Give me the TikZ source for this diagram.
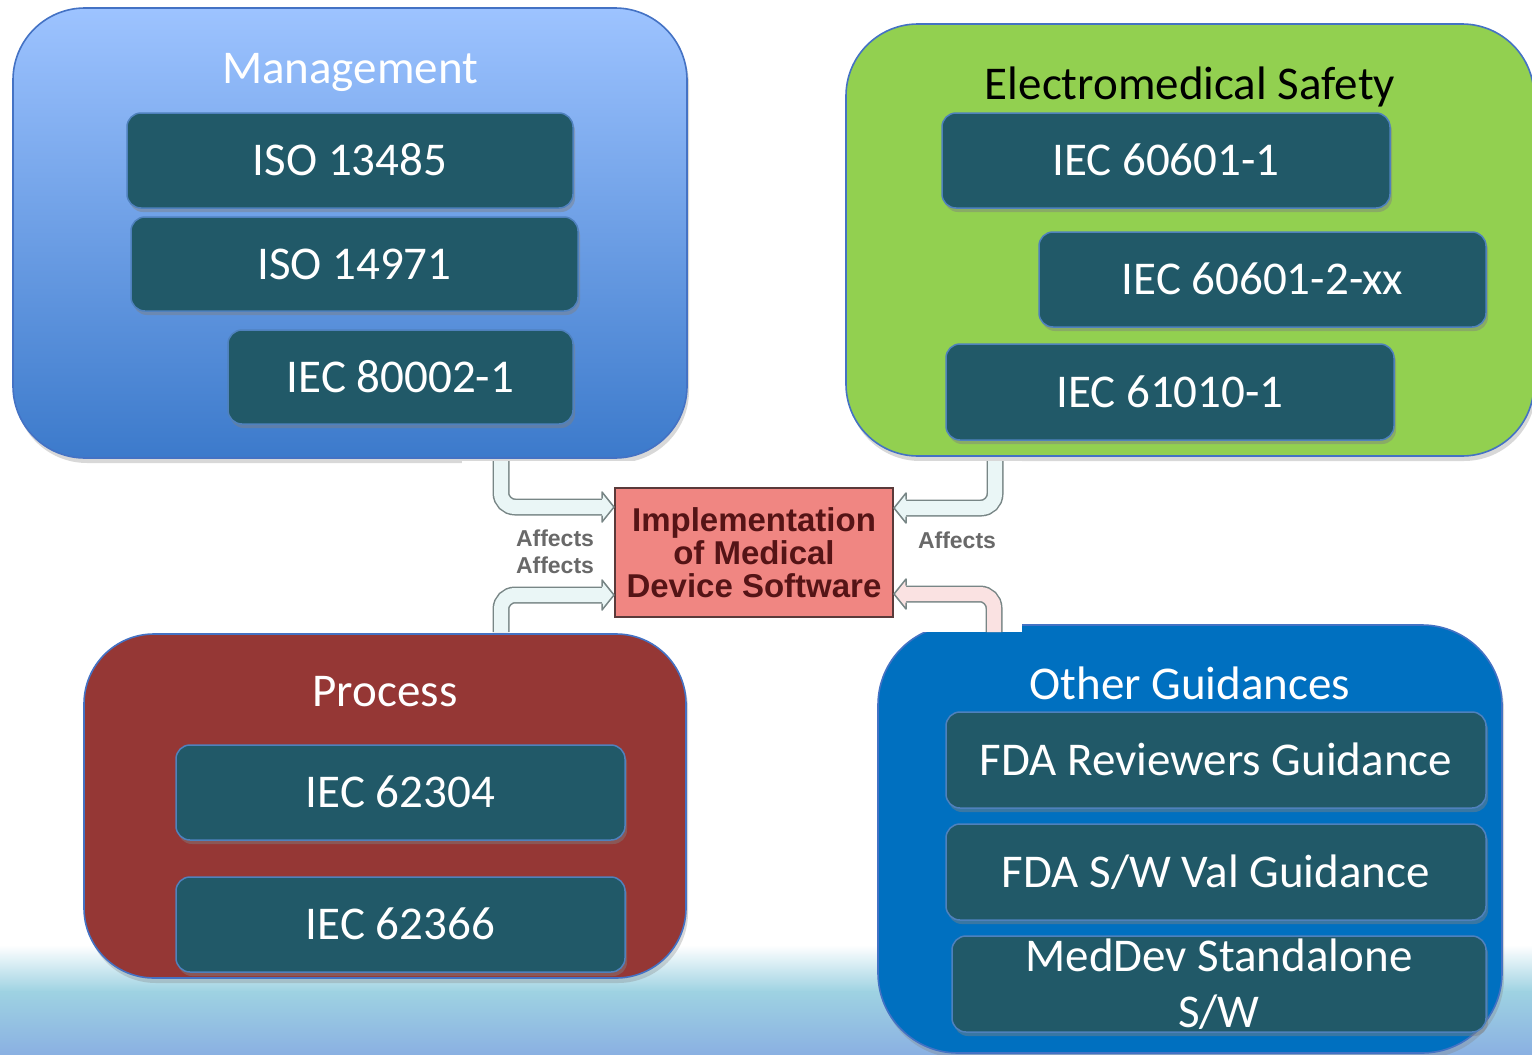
\documentclass[tikz,border=0pt]{standalone}
\usepackage{fontspec}
\setmainfont{Carlito}
\newfontfamily\helvfont{Liberation Sans}
\usetikzlibrary{shadows,calc}

\definecolor{grpborder}{RGB}{68,114,196}
\definecolor{mgmtTop}{RGB}{157,195,255}
\definecolor{mgmtBot}{RGB}{60,122,203}
\definecolor{emsFill}{RGB}{146,208,80}
\definecolor{procFill}{RGB}{149,55,53}
\definecolor{otherFill}{RGB}{0,112,192}
\definecolor{stdFill}{RGB}{33,89,104}
\definecolor{stdBorder}{RGB}{79,129,189}
\definecolor{implFill}{RGB}{240,134,130}
\definecolor{implBorder}{RGB}{90,58,58}
\definecolor{implText}{RGB}{85,20,22}
\definecolor{arrowLine}{RGB}{120,134,134}
\definecolor{bandCyan}{RGB}{234,246,246}
\definecolor{bandPink}{RGB}{250,226,226}
\definecolor{affectsGray}{RGB}{105,105,105}
\definecolor{floorCyan}{RGB}{158,210,226}
\definecolor{floorBlue}{RGB}{138,176,226}

% open-sided head of a hollow "Affects" arrow: #1 tip, #2 +1 right / -1 left, #3 fill
\newcommand\affectshead[3]{%
  \fill[#3] ($(#1)+(-12*#2,-8.5)$) -- ($(#1)+(-12*#2,-15)$) -- (#1)
    -- ($(#1)+(-12*#2,15)$) -- ($(#1)+(-12*#2,8.5)$) -- cycle;
  \draw[arrowLine, line width=1.5pt, line join=round]
    ($(#1)+(-12*#2,-8.5)$) -- ($(#1)+(-12*#2,-15)$) -- (#1)
    -- ($(#1)+(-12*#2,15)$) -- ($(#1)+(-12*#2,8.5)$);
}

\begin{document}
\begin{tikzpicture}[x=1pt,y=-1pt,
  groupbox/.style={rounded corners=72pt, draw=grpborder, line width=1.6pt,
    drop shadow={opacity=0.3, shadow xshift=2pt, shadow yshift=-5pt}},
  grouptitle/.style={font=\fontsize{47}{56}\selectfont, inner sep=0pt,
    text height=30pt, text depth=0pt},
  stdbox/.style={rounded corners=14pt, fill=stdFill, draw=stdBorder,
    line width=1.5pt, text=white, font=\fontsize{47}{56}\selectfont,
    inner sep=0pt, text height=30pt, text depth=0pt,
    drop shadow={opacity=0.45, shadow xshift=2pt, shadow yshift=-4pt}},
  band/.style={line width=1.5pt, draw=arrowLine, double distance=14pt,
    rounded corners=14pt},
  affects/.style={text=affectsGray, font=\helvfont\bfseries\fontsize{23}{23}\selectfont,
    inner sep=0pt}
]
\useasboundingbox (0,0) rectangle (1532,1055);
\fill[white] (0,0) rectangle (1532,1055);

% floor gradient
\shade[top color=white, bottom color=floorCyan] (0,945) rectangle (1532,992);
\shade[top color=floorCyan, bottom color=floorBlue] (0,991.5) rectangle (1532,1055);

% group panels
\node[groupbox, shade, top color=mgmtTop, bottom color=mgmtBot,
  minimum width=674pt, minimum height=450pt] (mgmt) at (350,233) {};
\node[groupbox, fill=emsFill, minimum width=688pt, minimum height=432pt] (ems) at (1190,240) {};
\node[groupbox, rounded corners=70pt, fill=procFill, minimum width=602pt, minimum height=344pt] (proc) at (385,806) {};
\node[groupbox, rounded corners=80pt, fill=otherFill, minimum width=624pt, minimum height=428pt] (other) at (1190,839) {};

% group titles
\node[grouptitle, text=white] (mgmtT) at (350,68.5) {Management};
\node[grouptitle, text=black] (emsT) at (1190,84) {Electromedical Safety};
\node[grouptitle, text=white] (procT) at (385,691) {Process};
\node[grouptitle, text=white] (otherT) at (1190,684) {Other Guidances};

% standards
\node[stdbox, minimum width=446pt, minimum height=95pt] (iso13485) at (350,160.5) {ISO 13485};
\node[stdbox, minimum width=447pt, minimum height=94pt] (iso14971) at (354.5,264) {ISO 14971};
\node[stdbox, minimum width=345pt, minimum height=94pt] (iec80002) at (400.5,377) {IEC 80002-1};

\node[stdbox, minimum width=448pt, minimum height=95pt] (iec60601) at (1166,160.5) {IEC 60601-1};
\node[stdbox, minimum width=447pt, minimum height=95pt] (iec606012) at (1262.5,279.5) {IEC 60601-2-xx};
\node[stdbox, minimum width=448pt, minimum height=96pt] (iec61010) at (1170,392) {IEC 61010-1};

\node[stdbox, minimum width=449pt, minimum height=95pt] (iec62304) at (400.5,792.5) {IEC 62304};
\node[stdbox, minimum width=449pt, minimum height=95pt] (iec62366) at (400.5,924.5) {IEC 62366};

\node[stdbox, minimum width=540pt, minimum height=96pt] (fdarev) at (1216,760) {FDA Reviewers Guidance};
\node[stdbox, minimum width=540pt, minimum height=96pt] (fdaval) at (1216,872) {FDA S/W Val Guidance};
\node[stdbox, minimum width=534pt, minimum height=96pt, text height=, text depth=,
  align=center] (meddev) at (1219,984) {MedDev Standalone\\S/W};

% central panel
\fill[white] (462,461) rectangle (1022,632);
\node[draw=implBorder, line width=2pt, fill=implFill, minimum width=278pt,
  minimum height=129pt, inner sep=0pt, align=center, text=implText,
  font=\helvfont\bfseries\fontsize{33}{33}\selectfont] (impl) at (754,552.5)
  {Implementation\\of Medical\\Device Software};

\coordinate (tlsrc) at (501,461);
\coordinate (blsrc) at (501,632);
\coordinate (trsrc) at (995,461);
\coordinate (brsrc) at (994,632);
\coordinate (tltip) at ($(impl.west)+(0,-45.5)$);
\coordinate (bltip) at ($(impl.west)+(0,42.5)$);
\coordinate (trtip) at ($(impl.east)+(0,-44.5)$);
\coordinate (brtip) at ($(impl.east)+(0,41.5)$);

\draw[band, double=bandCyan] (tlsrc) |- ($(tltip)+(-12,0)$);
\draw[band, double=bandCyan] (blsrc) |- ($(bltip)+(-12,0)$);
\draw[band, double=bandCyan] (trsrc) |- ($(trtip)+(12,0)$);
\draw[band, double=bandPink] (brsrc) |- ($(brtip)+(12,0)$);
\affectshead{tltip}{1}{bandCyan}
\affectshead{bltip}{1}{bandCyan}
\affectshead{trtip}{-1}{bandCyan}
\affectshead{brtip}{-1}{bandPink}

\node[affects] (aff1) at (555,538) {Affects};
\node[affects] (aff2) at (555,565) {Affects};
\node[affects] (aff3) at (957,540) {Affects};
\end{tikzpicture}
\end{document}
